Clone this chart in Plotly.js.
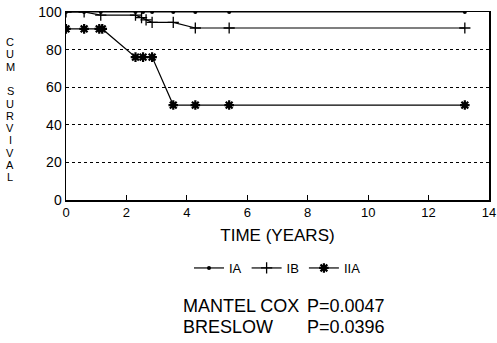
<!DOCTYPE html>
<html><head><meta charset="utf-8">
<script src="https://cdn.plot.ly/plotly-3.0.1.min.js"></script>
<style>body{margin:0;background:#fff}#c{width:497px;height:343px}</style>
</head><body><div id="c"></div>
<script>
const seriesNames = ["IA", "IB", "IIA"];
const iaX = [0, 0.6, 1.15, 2.3, 2.55, 2.85, 3.55, 4.28, 5.4, 13.2];
const iaY = [100, 100, 100, 100, 100, 100, 100, 100, 100, 100];
const ibX = [0, 0.6, 1.15, 2.3, 2.5, 2.65, 2.85, 3.55, 4.28, 5.4, 13.2];
const ibY = [100, 100, 98.3, 98.3, 97, 95.8, 94.5, 94.5, 91.5, 91.5, 91.5];
const iiaX = [0, 0.6, 1.1, 1.2, 2.3, 2.55, 2.85, 3.55, 4.28, 5.4, 13.2];
const iiaY = [91, 91, 91, 91, 76, 76, 76, 50.5, 50.5, 50.5, 50.5];
const xTicks = [0, 2, 4, 6, 8, 10, 12, 14];
const yTicks = [0, 20, 40, 60, 80, 100];
const yTitleLetters = ["C","U","M","","S","U","R","V","I","V","A","L"];
const xTitle = "TIME (YEARS)";
const statLines = [["MANTEL COX", "P=0.0047"], ["BRESLOW", "P=0.0396"]];

const F = "Liberation Sans, Arial, sans-serif";
const traces = [
  {x: iaX, y: iaY, name: seriesNames[0], mode: "lines+markers", line: {color: "#000", width: 1.2},
   marker: {symbol: "circle", size: 4, color: "#000"}},
  {x: ibX, y: ibY, name: seriesNames[1], mode: "lines+markers", line: {color: "#000", width: 1.2},
   marker: {symbol: "cross-thin", size: 8, color: "#000", line: {color: "#000", width: 1.3}}},
  {x: iiaX, y: iiaY, name: seriesNames[2], mode: "lines+markers", line: {color: "#000", width: 1.2},
   marker: {symbol: "asterisk", size: 8, color: "#000", line: {color: "#000", width: 2.2}}}
];

const ml = 66, mr = 8, mt = 12, mb = 143;
const plotW = 497 - ml - mr, plotH = 343 - mt - mb;
const ann = [];
const letterTop = 42, pitch = 12.3;
yTitleLetters.forEach((L, i) => {
  if (!L) return;
  const py = letterTop + i * pitch;
  ann.push({text: L, xref: "paper", yref: "paper", x: (10 - ml) / plotW, y: (mt + plotH - py) / plotH,
    xanchor: "center", yanchor: "middle", showarrow: false, font: {family: F, size: 11, color: "#000"}});
});
statLines.forEach((pair, i) => {
  const py = 306 + i * 21;
  const yy = (mt + plotH - py) / plotH;
  ann.push({text: pair[0], xref: "paper", yref: "paper", x: (181 - ml) / plotW, y: yy, xanchor: "left", yanchor: "middle",
    showarrow: false, font: {family: F, size: 18, color: "#000"}});
  ann.push({text: pair[1], xref: "paper", yref: "paper", x: (346 - ml) / plotW, y: yy, xanchor: "center", yanchor: "middle",
    showarrow: false, font: {family: F, size: 18, color: "#000"}});
});

const layout = {
  width: 497, height: 343,
  margin: {l: ml, r: mr, t: mt, b: mb},
  paper_bgcolor: "#fff", plot_bgcolor: "#fff",
  font: {family: F, color: "#000"},
  showlegend: true,
  legend: {orientation: "h", x: 0.5, xanchor: "center", y: (mt + plotH - 268) / plotH, yanchor: "middle",
    font: {family: F, size: 13, color: "#000"}, itemwidth: 30, tracegroupgap: 0, bgcolor: "rgba(0,0,0,0)"},
  xaxis: {range: [0, 14], tickvals: xTicks, ticktext: xTicks.map(String), ticks: "inside", ticklen: 5, tickwidth: 1.2,
    tickcolor: "#000", showline: true, linecolor: "#000", linewidth: 1.5, mirror: true, showgrid: false, zeroline: false,
    ticklabeloverflow: "allow", automargin: false,
    tickfont: {family: F, size: 13, color: "#000"},
    title: {text: xTitle, font: {family: F, size: 17, color: "#000"}, standoff: 10}},
  yaxis: {range: [0, 100], tickvals: yTicks, ticktext: yTicks.map(String), ticks: "", showline: true, linecolor: "#000",
    linewidth: 1.5, mirror: true, showgrid: true, gridcolor: "#000", gridwidth: 1, griddash: "dot", zeroline: false,
    automargin: false,
    tickfont: {family: F, size: 14, color: "#000"}},
  annotations: ann
};
Plotly.newPlot("c", traces, layout, {displayModeBar: false, staticPlot: true});
</script></body></html>
